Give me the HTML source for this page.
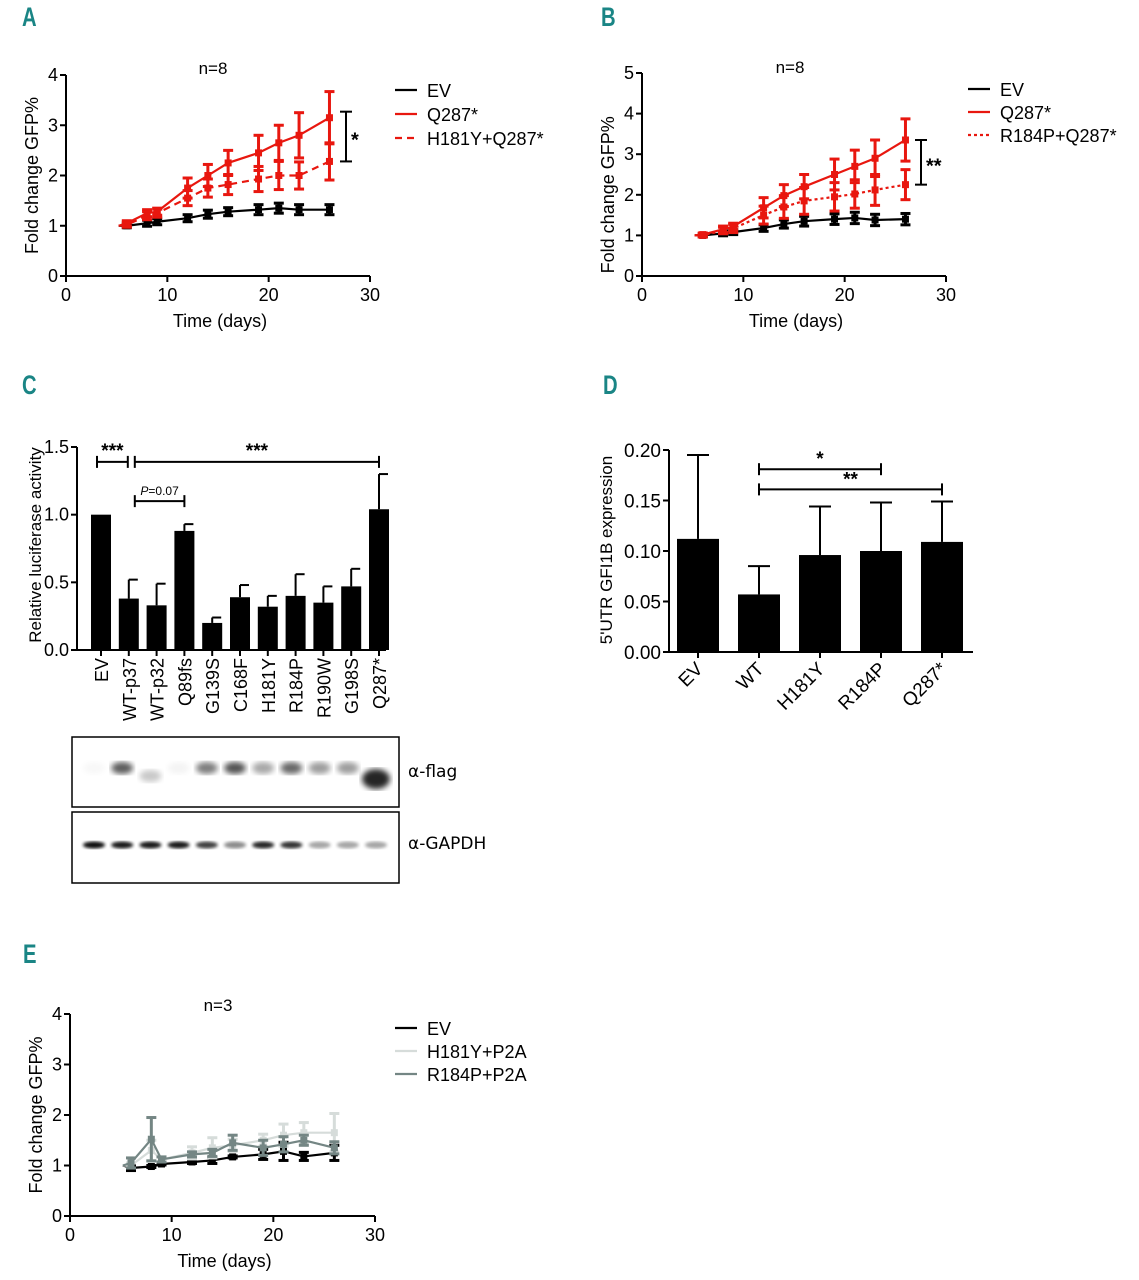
<!DOCTYPE html>
<html><head><meta charset="utf-8"><style>
html,body{margin:0;padding:0;background:#fff;}
svg{display:block;font-family:"Liberation Sans",sans-serif;}
.pl{font-family:"Liberation Sans",sans-serif;font-weight:bold;fill:#1a8585;font-size:27px;}
</style></head><body>
<svg id="fig" width="1139" height="1280" viewBox="0 0 1139 1280" xmlns="http://www.w3.org/2000/svg">
<defs>
<filter id="blur3"><feGaussianBlur stdDeviation="3"/></filter>
<filter id="blur2"><feGaussianBlur stdDeviation="1.6"/></filter>
</defs>
<text class="pl" x="0" y="0" transform="translate(22,26) scale(0.75,1)">A</text>
<text class="pl" x="0" y="0" transform="translate(601,26) scale(0.75,1)">B</text>
<text class="pl" x="0" y="0" transform="translate(22,394) scale(0.75,1)">C</text>
<text class="pl" x="0" y="0" transform="translate(603,394) scale(0.75,1)">D</text>
<text class="pl" x="0" y="0" transform="translate(23,963) scale(0.75,1)">E</text>
<g id="gA"></g>
<g id="gB"></g>
<g id="gC"></g>
<g id="gBlot"></g>
<g id="gD"></g>
<g id="gE"></g>
</svg>
<script>
// ---- Data ----
const days = [6, 8, 9, 12, 14, 16, 19, 21, 23, 26];
const aEV = [1.0, 1.05, 1.08, 1.15, 1.23, 1.28, 1.32, 1.35, 1.32, 1.32];
const aEVerr = [0.04, 0.06, 0.06, 0.07, 0.08, 0.08, 0.1, 0.1, 0.1, 0.1];
const aQ = [1.05, 1.25, 1.28, 1.75, 2.0, 2.25, 2.45, 2.65, 2.8, 3.15];
const aQerr = [0.05, 0.07, 0.07, 0.2, 0.22, 0.25, 0.35, 0.35, 0.45, 0.52];
const aH = [1.02, 1.2, 1.25, 1.55, 1.75, 1.82, 1.93, 2.0, 2.0, 2.28];
const aHerr = [0.05, 0.08, 0.08, 0.15, 0.18, 0.2, 0.25, 0.28, 0.27, 0.37];
const bEV = [1.0, 1.05, 1.08, 1.18, 1.28, 1.35, 1.4, 1.43, 1.38, 1.4];
const bEVerr = [0.04, 0.06, 0.06, 0.08, 0.1, 0.12, 0.13, 0.14, 0.14, 0.14];
const bQ = [1.02, 1.15, 1.22, 1.68, 1.98, 2.2, 2.5, 2.7, 2.9, 3.35];
const bQerr = [0.04, 0.08, 0.08, 0.25, 0.27, 0.3, 0.38, 0.4, 0.45, 0.52];
const bR = [1.0, 1.12, 1.17, 1.5, 1.7, 1.85, 1.95, 2.02, 2.12, 2.25];
const bRerr = [0.04, 0.08, 0.1, 0.22, 0.28, 0.33, 0.35, 0.35, 0.38, 0.37];
const eEV = [0.95, 0.98, 1.03, 1.07, 1.1, 1.17, 1.22, 1.28, 1.18, 1.25];
const eEVerr = [0.05, 0.02, 0.02, 0.03, 0.06, 0.02, 0.1, 0.18, 0.08, 0.15];
const eH = [1.0, 1.3, 1.12, 1.25, 1.35, 1.4, 1.5, 1.6, 1.65, 1.65];
const eHerr = [0.05, 0.2, 0.05, 0.12, 0.2, 0.12, 0.12, 0.22, 0.2, 0.38];
const eR = [1.05, 1.52, 1.12, 1.22, 1.25, 1.45, 1.35, 1.42, 1.5, 1.35];
const eRerr = [0.1, 0.43, 0.05, 0.05, 0.07, 0.15, 0.15, 0.15, 0.1, 0.12];
const xTicks = [0, 10, 20, 30];
const cCats = ["EV","WT-p37","WT-p32","Q89fs","G139S","C168F","H181Y","R184P","R190W","G198S","Q287*"];
const cVals = [1.0, 0.38, 0.33, 0.88, 0.2, 0.39, 0.32, 0.4, 0.35, 0.47, 1.04];
const cErr = [0, 0.14, 0.16, 0.05, 0.04, 0.09, 0.08, 0.16, 0.12, 0.13, 0.26];
const cTicks = ["0.0", "0.5", "1.0", "1.5"];
const dCats = ["EV","WT","H181Y","R184P","Q287*"];
const dVals = [0.112, 0.057, 0.096, 0.1, 0.109];
const dErr = [0.083, 0.028, 0.048, 0.048, 0.04];
const dTicks = ["0.00", "0.05", "0.10", "0.15", "0.20"];
const flagBands = [0.03, 0.75, 0.25, 0.05, 0.6, 0.8, 0.4, 0.7, 0.45, 0.45, 1.0];
const gapdhBands = [0.95, 0.9, 0.9, 0.9, 0.75, 0.45, 0.85, 0.8, 0.35, 0.35, 0.35];

const NS = "http://www.w3.org/2000/svg";
function mk(parent, tag, attrs, text) {
  const e = document.createElementNS(NS, tag);
  for (const k in attrs) e.setAttribute(k, attrs[k]);
  if (text !== undefined) e.textContent = text;
  parent.appendChild(e);
  return e;
}

function lineChart(g, c) {
  const sx = v => c.x0 + (v / 30) * (c.x1 - c.x0);
  const sy = v => c.y0 - (v / c.ymax) * (c.y0 - c.y1);
  let e;
  e = mk(g, "line", {x1: c.x0, y1: c.y0, x2: c.x1, y2: c.y0, stroke: "#000", "stroke-width": 2});
  
  
  e = mk(g, "line", {x1: c.x0, y1: c.y0, x2: c.x0, y2: c.y1, stroke: "#000", "stroke-width": 2});
  
  
  xTicks.forEach(t => {
    mk(g, "line", {x1: sx(t), y1: c.y0, x2: sx(t), y2: c.y0 + 6, stroke: "#000", "stroke-width": 2});
    e = mk(g, "text", {x: sx(t), y: c.y0 + 25, "font-size": 18, "text-anchor": "middle"}, t);
    
    
  });
  for (let t = 0; t <= c.ymax; t++) {
    mk(g, "line", {x1: c.x0 - 6, y1: sy(t), x2: c.x0, y2: sy(t), stroke: "#000", "stroke-width": 2});
    e = mk(g, "text", {x: c.x0 - 8, y: sy(t) + 6, "font-size": 18, "text-anchor": "end"}, t);
    
    
  }
  e = mk(g, "text", {x: (c.x0 + c.x1) / 2 + 2, y: c.y0 + 51, "font-size": 18, "text-anchor": "middle"}, "Time (days)");
  
  
  const ym = (c.y0 + sy(4)) / 2;
  e = mk(g, "text", {x: 0, y: 0, "font-size": 18, "text-anchor": "middle", transform: `translate(${c.x0 - 28},${ym}) rotate(-90)`}, "Fold change GFP%");
  
  
  e = mk(g, "text", {x: c.nx, y: c.ny, "font-size": 17, "text-anchor": "middle"}, c.ntext);
  
  
  c.series.forEach((s, si) => {
    const sg = mk(g, "g", {});
    
    
    s.vals.forEach((v, i) => {
      const x = sx(days[i]);
      const lo = sy(v - s.err[i]), hi = sy(v + s.err[i]);
      mk(sg, "line", {x1: x, y1: lo, x2: x, y2: hi, stroke: s.color, "stroke-width": 3});
      mk(sg, "line", {x1: x - 5, y1: lo, x2: x + 5, y2: lo, stroke: s.color, "stroke-width": 3});
      mk(sg, "line", {x1: x - 5, y1: hi, x2: x + 5, y2: hi, stroke: s.color, "stroke-width": 3});
      const m = mk(sg, "rect", {x: x - 3.5, y: sy(v) - 3.5, width: 7, height: 7, fill: s.color});
      
      
    });
    const pts = s.vals.map((v, i) => sx(days[i]) + "," + sy(v)).join(" ");
    const pl = mk(sg, "polyline", {points: (sx(5.2)) + "," + sy(1) + " " + pts, fill: "none", stroke: s.color, "stroke-width": 2.2, "stroke-dasharray": s.dash || "none"});
    
    
    const lg = mk(g, "g", {});
    
    
    const ly = c.ly + si * c.lsp;
    mk(lg, "line", {x1: c.lx, y1: ly, x2: c.lx + 22, y2: ly, stroke: s.color, "stroke-width": 2.2, "stroke-dasharray": s.dash || "none"});
    mk(lg, "text", {x: c.lx + 32, y: ly + 7, "font-size": 18}, s.label);
  });
  if (c.sig) {
    const sgG = mk(g, "g", {});
    
    
    const a = sy(c.sig.top), b = sy(c.sig.bot);
    mk(sgG, "line", {x1: c.sig.x, y1: a, x2: c.sig.x, y2: b, stroke: "#000", "stroke-width": 2});
    mk(sgG, "line", {x1: c.sig.x - 6, y1: a, x2: c.sig.x + 6, y2: a, stroke: "#000", "stroke-width": 2});
    mk(sgG, "line", {x1: c.sig.x - 6, y1: b, x2: c.sig.x + 6, y2: b, stroke: "#000", "stroke-width": 2});
    mk(sgG, "text", {x: c.sig.x + 5, y: (a + b) / 2 + 10, "font-size": 20, "font-weight": "bold"}, c.sig.text);
  }
}

lineChart(document.getElementById("gA"), {x0: 66, x1: 370, y0: 276, y1: 75, ymax: 4, nx: 213, ny: 74, ntext: "n=8",
  lx: 395, ly: 90, lsp: 24,
  series: [{key: "ev", label: "EV", color: "#000", vals: aEV, err: aEVerr},
           {key: "q287", label: "Q287*", color: "#e8170f", vals: aQ, err: aQerr},
           {key: "h181y-q287", label: "H181Y+Q287*", color: "#e8170f", dash: "7,5", vals: aH, err: aHerr}],
  sig: {x: 346, top: 3.27, bot: 2.28, text: "*"}});
lineChart(document.getElementById("gB"), {x0: 642, x1: 946, y0: 276, y1: 73, ymax: 5, nx: 790, ny: 73, ntext: "n=8",
  lx: 968, ly: 89, lsp: 23,
  series: [{key: "ev", label: "EV", color: "#000", vals: bEV, err: bEVerr},
           {key: "q287", label: "Q287*", color: "#e8170f", vals: bQ, err: bQerr},
           {key: "r184p-q287", label: "R184P+Q287*", color: "#e8170f", dash: "3,3", vals: bR, err: bRerr}],
  sig: {x: 921, top: 3.35, bot: 2.25, text: "**"}});
lineChart(document.getElementById("gE"), {x0: 70, x1: 375, y0: 1216, y1: 1014, ymax: 4, nx: 218, ny: 1011, ntext: "n=3",
  lx: 395, ly: 1028, lsp: 23,
  series: [{key: "ev", label: "EV", color: "#000", vals: eEV, err: eEVerr},
           {key: "h181y-p2a", label: "H181Y+P2A", color: "#d6dcda", vals: eH, err: eHerr},
           {key: "r184p-p2a", label: "R184P+P2A", color: "#748684", vals: eR, err: eRerr}]});

// ---- Panel C bar chart ----
(function () {
  const g = document.getElementById("gC");
  const y0 = 650, y1 = 447, ymax = 1.5, ax = 77;
  const sy = v => y0 - v / ymax * (y0 - y1);
  const cx = i => 101 + i * 27.8;
  let e;
  cVals.forEach((v, i) => {
    const bg = mk(g, "g", {});
    
    
    mk(bg, "rect", {x: cx(i) - 10, y: sy(v), width: 20, height: y0 - sy(v), fill: "#000"});
    if (cErr[i] > 0) {
      mk(bg, "line", {x1: cx(i), y1: sy(v), x2: cx(i), y2: sy(v + cErr[i]), stroke: "#000", "stroke-width": 2});
      mk(bg, "line", {x1: cx(i), y1: sy(v + cErr[i]), x2: cx(i) + 9, y2: sy(v + cErr[i]), stroke: "#000", "stroke-width": 2});
    }
    mk(g, "line", {x1: cx(i), y1: y0, x2: cx(i), y2: y0 + 6, stroke: "#000", "stroke-width": 2});
    e = mk(g, "text", {x: 0, y: 0, "font-size": 18, "text-anchor": "end", transform: `translate(${cx(i) + 7},${y0 + 8}) rotate(-90)`}, cCats[i]);
    
    
  });
  e = mk(g, "line", {x1: ax, y1: y0, x2: 386, y2: y0, stroke: "#000", "stroke-width": 2});
  
  
  e = mk(g, "line", {x1: ax, y1: y0, x2: ax, y2: y1, stroke: "#000", "stroke-width": 2});
  
  
  cTicks.forEach(t => {
    mk(g, "line", {x1: ax - 6, y1: sy(+t), x2: ax, y2: sy(+t), stroke: "#000", "stroke-width": 2});
    e = mk(g, "text", {x: ax - 8, y: sy(+t) + 6, "font-size": 18, "text-anchor": "end"}, t);
    
    
  });
  e = mk(g, "text", {x: 0, y: 0, "font-size": 17, "text-anchor": "middle", transform: `translate(${41},${545}) rotate(-90)`}, "Relative luciferase activity");
  
  
  function bracket(i1, i2, dx1, dx2, v, label, fs, italic) {
    const bg = mk(g, "g", {});
    
    
    const a = cx(i1) + dx1, b = cx(i2) + dx2, y = sy(v);
    mk(bg, "line", {x1: a, y1: y, x2: b, y2: y, stroke: "#000", "stroke-width": 2});
    mk(bg, "line", {x1: a, y1: y - 6, x2: a, y2: y + 6, stroke: "#000", "stroke-width": 2});
    mk(bg, "line", {x1: b, y1: y - 6, x2: b, y2: y + 6, stroke: "#000", "stroke-width": 2});
    const t = mk(bg, "text", {x: (a + b) / 2, y: y - (italic ? 6 : 5), "font-size": fs, "text-anchor": "middle", "font-weight": italic ? "normal" : "bold"});
    if (italic) { mk(t, "tspan", {"font-style": "italic"}, "P"); mk(t, "tspan", {}, "=0.07"); } else t.textContent = label;
  }
  bracket(0, 1, -4, -1, 1.39, "***", 19);
  bracket(1, 10, 6, 0, 1.39, "***", 19);
  bracket(1, 3, 6, 0, 1.1, "", 12, true);
})();

// ---- Blot ----
(function () {
  const g = document.getElementById("gBlot");
  const cx = i => 94 + i * 28.2;
  let e = mk(g, "rect", {x: 72, y: 737, width: 327, height: 70, fill: "#fff", stroke: "#000", "stroke-width": 1.5});
  
  
  e = mk(g, "rect", {x: 72, y: 812, width: 327, height: 71, fill: "#fff", stroke: "#000", "stroke-width": 1.5});
  
  
  flagBands.forEach((a, i) => {
    const big = i === 10;
    e = mk(g, "ellipse", {cx: cx(i), cy: big ? 779 : (i === 2 ? 776 : 768), rx: big ? 14 : 11, ry: big ? 10 : 6, fill: "#000", opacity: a * 0.85, filter: "url(#blur3)"});
    
    
  });
  gapdhBands.forEach((a, i) => {
    e = mk(g, "ellipse", {cx: cx(i), cy: 845, rx: 11, ry: 3.5, fill: "#000", opacity: a, filter: "url(#blur2)"});
    
    
  });
  e = mk(g, "text", {x: 408, y: 777, "font-size": 17, "font-family": "DejaVu Sans, sans-serif"}, "α-flag");
  
  
  e = mk(g, "text", {x: 408, y: 849, "font-size": 17, "font-family": "DejaVu Sans, sans-serif"}, "α-GAPDH");
  
  
})();

// ---- Panel D ----
(function () {
  const g = document.getElementById("gD");
  const y0 = 652, y1 = 450, ymax = 0.2, ax = 669;
  const sy = v => y0 - v / ymax * (y0 - y1);
  const cx = i => 698 + i * 61;
  let e;
  dVals.forEach((v, i) => {
    const bg = mk(g, "g", {});
    
    
    mk(bg, "rect", {x: cx(i) - 21, y: sy(v), width: 42, height: y0 - sy(v), fill: "#000"});
    mk(bg, "line", {x1: cx(i), y1: sy(v), x2: cx(i), y2: sy(v + dErr[i]), stroke: "#000", "stroke-width": 2});
    mk(bg, "line", {x1: cx(i) - 11, y1: sy(v + dErr[i]), x2: cx(i) + 11, y2: sy(v + dErr[i]), stroke: "#000", "stroke-width": 2});
    mk(g, "line", {x1: cx(i), y1: y0, x2: cx(i), y2: y0 + 6, stroke: "#000", "stroke-width": 2});
    e = mk(g, "text", {x: 0, y: 0, "font-size": 19, "text-anchor": "end", transform: `translate(${cx(i) + 6},${y0 + 18}) rotate(-45)`}, dCats[i]);
    
    
  });
  e = mk(g, "line", {x1: ax, y1: y0, x2: 973, y2: y0, stroke: "#000", "stroke-width": 2});
  
  
  e = mk(g, "line", {x1: ax, y1: y0, x2: ax, y2: y1, stroke: "#000", "stroke-width": 2});
  
  
  dTicks.forEach(t => {
    mk(g, "line", {x1: ax - 6, y1: sy(+t), x2: ax, y2: sy(+t), stroke: "#000", "stroke-width": 2});
    e = mk(g, "text", {x: ax - 8, y: sy(+t) + 7, "font-size": 19, "text-anchor": "end"}, t);
    
    
  });
  e = mk(g, "text", {x: 0, y: 0, "font-size": 17, "text-anchor": "middle", transform: `translate(${612},${550}) rotate(-90)`}, "5'UTR GFI1B expression");
  
  
  function bracket(i1, i2, v, label) {
    const bg = mk(g, "g", {});
    
    
    const a = cx(i1), b = cx(i2), y = sy(v);
    mk(bg, "line", {x1: a, y1: y, x2: b, y2: y, stroke: "#000", "stroke-width": 2});
    mk(bg, "line", {x1: a, y1: y - 6, x2: a, y2: y + 6, stroke: "#000", "stroke-width": 2});
    mk(bg, "line", {x1: b, y1: y - 6, x2: b, y2: y + 6, stroke: "#000", "stroke-width": 2});
    mk(bg, "text", {x: (a + b) / 2, y: y - 4, "font-size": 19, "text-anchor": "middle", "font-weight": "bold"}, label);
  }
  bracket(1, 3, 0.181, "*");
  bracket(1, 4, 0.161, "**");
})();
</script>
</body></html>
